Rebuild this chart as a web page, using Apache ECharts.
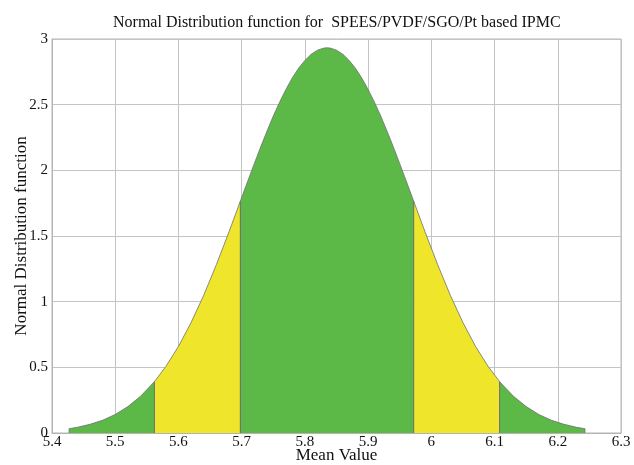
<!DOCTYPE html>
<html>
<head>
<meta charset="utf-8">
<script src="https://cdn.jsdelivr.net/npm/echarts@6/dist/echarts.min.js"></script>
<style>
  html, body { margin: 0; padding: 0; background: #fff; }
  #chart { width: 634px; height: 465px; }
</style>
</head>
<body>
<div id="chart"></div>
<script>
// Mean values and the density
const meanValues = [5.427, 5.44, 5.46, 5.48, 5.50, 5.52, 5.54, 5.562, 5.58, 5.60, 5.62, 5.64, 5.66, 5.68, 5.698,
  5.71, 5.72, 5.73, 5.74, 5.75, 5.76, 5.77, 5.78, 5.79, 5.80, 5.81, 5.82, 5.83, 5.835,
  5.84, 5.85, 5.86, 5.87, 5.88, 5.89, 5.90, 5.91, 5.92, 5.93, 5.94, 5.95, 5.96, 5.972,
  5.99, 6.01, 6.03, 6.05, 6.07, 6.09, 6.108, 6.13, 6.15, 6.17, 6.19, 6.21, 6.23, 6.243];
const densityValues = [0.033, 0.043, 0.066, 0.097, 0.141, 0.201, 0.279, 0.391, 0.506, 0.659, 0.841, 1.049, 1.282, 1.532, 1.766,
  1.923, 2.051, 2.177, 2.298, 2.413, 2.519, 2.616, 2.703, 2.777, 2.837, 2.884, 2.915, 2.931, 2.933,
  2.931, 2.915, 2.884, 2.837, 2.777, 2.703, 2.616, 2.519, 2.413, 2.298, 2.177, 2.051, 1.923, 1.766,
  1.532, 1.282, 1.049, 0.841, 0.659, 0.506, 0.391, 0.279, 0.201, 0.141, 0.097, 0.066, 0.043, 0.033];

// Shaded bands: edges along the mean axis and their fill colours
const bandEdges = [5.427, 5.562, 5.698, 5.972, 6.108, 6.243];
const bandColors = ['#5cb947', '#efe62b', '#5cb947', '#efe62b', '#5cb947'];

const xTicks = { min: 5.4, max: 6.3, step: 0.1 };
const yTicks = { min: 0, max: 3, step: 0.5 };

const serif = 'Liberation Serif';

// One closed patch per band: drop to zero at each edge so the sides are drawn
const bandSeries = bandColors.map((color, i) => {
  const lo = bandEdges[i], hi = bandEdges[i + 1];
  const pts = [[lo, 0]];
  meanValues.forEach((x, k) => {
    if (x >= lo - 1e-9 && x <= hi + 1e-9) pts.push([x, densityValues[k]]);
  });
  pts.push([hi, 0]);
  return {
    type: 'line',
    data: pts,
    showSymbol: false,
    smooth: false,
    silent: true,
    lineStyle: { color: '#707070', width: 0.8 },
    areaStyle: { color: color, opacity: 1 },
    z: 3
  };
});

const chart = echarts.init(document.getElementById('chart'), null, { renderer: 'canvas' });
chart.setOption({
  animation: false,
  backgroundColor: '#fff',
  title: {
    text: 'Normal Distribution function for  SPEES/PVDF/SGO/Pt based IPMC',
    left: 108,
    top: 10,
    textStyle: { fontFamily: serif, fontWeight: 'normal', fontSize: 16, color: '#111' }
  },
  grid: {
    left: 52, right: 13, top: 39, bottom: 32,
    outerBoundsMode: 'none',
    containLabel: false,
    show: true, borderColor: '#b4b4b4', borderWidth: 1
  },
  xAxis: {
    type: 'value',
    min: xTicks.min, max: xTicks.max, interval: xTicks.step,
    name: 'Mean Value',
    nameLocation: 'middle',
    nameGap: 14,
    nameMoveOverlap: false,
    nameTextStyle: { fontFamily: serif, fontSize: 17, color: '#111' },
    axisLine: { show: true, lineStyle: { color: '#b4b4b4' } },
    axisTick: { show: false },
    axisLabel: {
      fontFamily: serif, fontSize: 15, color: '#111', margin: 2,
      formatter: v => String(+v.toFixed(1))
    },
    splitLine: { show: true, lineStyle: { color: '#c4c4c4', width: 1 } }
  },
  yAxis: {
    type: 'value',
    min: yTicks.min, max: yTicks.max, interval: yTicks.step,
    name: 'Normal Distribution function',
    nameLocation: 'middle',
    nameGap: 22,
    nameMoveOverlap: false,
    nameTextStyle: { fontFamily: serif, fontSize: 17, color: '#111' },
    axisLine: { show: true, lineStyle: { color: '#b4b4b4' } },
    axisTick: { show: false },
    axisLabel: {
      fontFamily: serif, fontSize: 15, color: '#111', margin: 4,
      formatter: v => String(+v.toFixed(1))
    },
    splitLine: { show: true, lineStyle: { color: '#c4c4c4', width: 1 } }
  },
  series: bandSeries
});
</script>
</body>
</html>
